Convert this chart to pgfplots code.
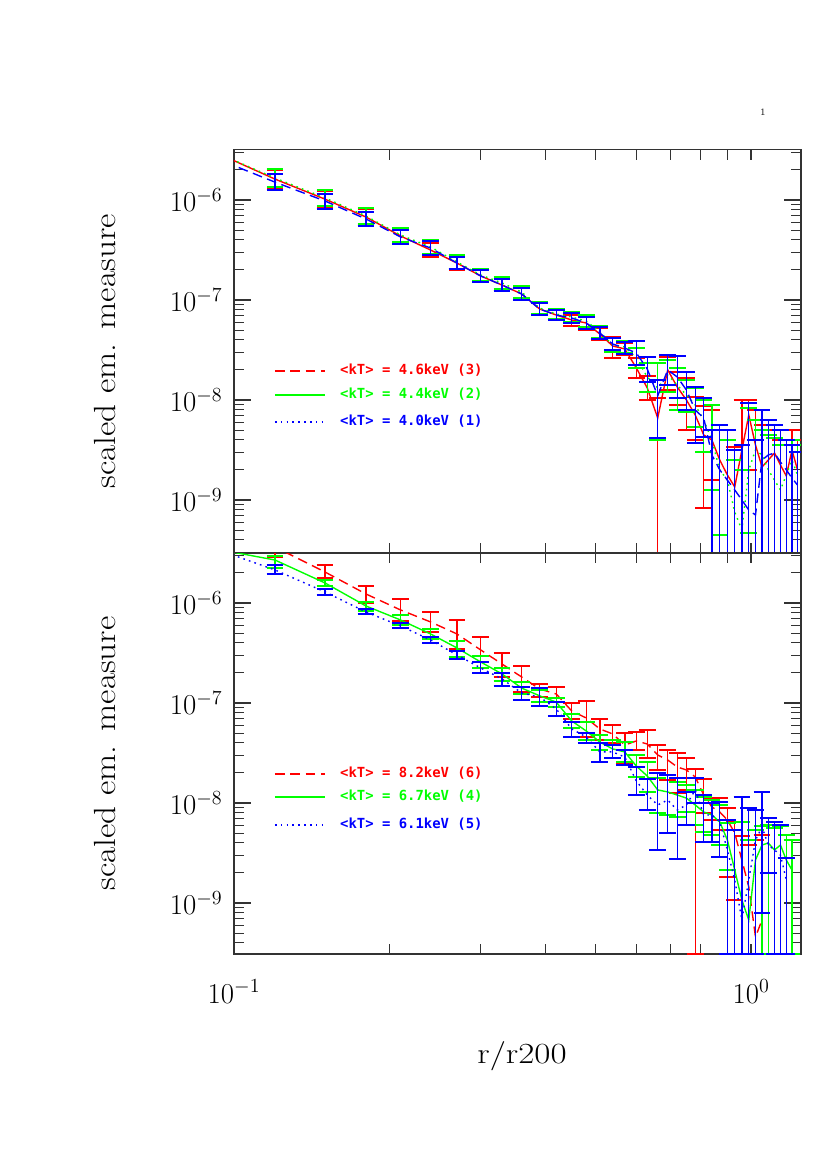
\documentclass[border=0pt]{standalone}
\usepackage{fontspec}
\usepackage{graphicx}
\usepackage{pgfplots}
\usepackage{pgfplotstable}
\pgfplotsset{compat=1.18}
\newfontfamily\legR{DejaVu Sans Mono}[Color=FF0000]
\newfontfamily\legG{DejaVu Sans Mono}[Color=00FF00]
\newfontfamily\legB{DejaVu Sans Mono}[Color=0000FF]
\definecolor{pr}{rgb}{1,0,0}
\definecolor{pg}{rgb}{0,1,0}
\definecolor{pb}{rgb}{0,0,1}

% ---------------- top panel ----------------
\pgfplotstableread{
x y hi lo
0.09 3.16e-6 3.89e-6 2.57e-6
0.12 1.62e-6 2.00e-6 1.32e-6
0.15 1.02e-6 1.23e-6 8.51e-7
0.18 6.76e-7 8.13e-7 5.62e-7
0.21 4.37e-7 5.13e-7 3.72e-7
0.24 3.16e-7 3.72e-7 2.69e-7
0.27 2.34e-7 2.75e-7 2.00e-7
0.30 1.74e-7 2.00e-7 1.51e-7
0.33 1.41e-7 1.62e-7 1.23e-7
0.36 1.15e-7 1.32e-7 1.00e-7
0.39 8.13e-8 9.33e-8 7.08e-8
0.42 7.08e-8 7.94e-8 6.31e-8
0.45 6.31e-8 7.08e-8 5.50e-8
0.48 5.89e-8 6.76e-8 5.01e-8
0.51 4.57e-8 5.25e-8 3.98e-8
0.54 3.47e-8 4.27e-8 2.63e-8
0.57 3.24e-8 3.72e-8 2.82e-8
0.60 2.09e-8 2.63e-8 1.66e-8
0.63 1.32e-8 1.74e-8 1.00e-8
0.66 6.61e-9 1.05e-8 2.95e-10
0.69 2.00e-8 2.69e-8 1.26e-8
0.72 1.35e-8 1.91e-8 8.91e-9
0.75 1.00e-8 1.66e-8 5.01e-9
0.78 7.08e-9 1.07e-8 3.98e-9
0.81 4.47e-9 8.71e-9 8.32e-10
0.84 3.98e-9 7.94e-9 1.58e-9
0.87 2.51e-9 5.62e-9 2.95e-10
0.90 1.78e-9 3.98e-9 2.95e-10
0.93 1.35e-9 3.39e-9 2.95e-10
0.96 3.16e-9 1.00e-8 2.95e-10
0.99 7.08e-9 1.00e-8 2.00e-9
1.02 3.55e-9 7.94e-9 2.95e-10
1.05 2.14e-9 5.62e-9 2.95e-10
1.08 2.51e-9 5.01e-9 2.95e-10
1.11 2.95e-9 5.01e-9 2.95e-10
1.14 2.24e-9 3.98e-9 2.95e-10
1.17 1.74e-9 3.55e-9 2.95e-10
1.20 3.16e-9 5.01e-9 2.95e-10
1.23 2.00e-9 3.98e-9 2.95e-10
}\tr

\pgfplotstableread{
x y hi lo
0.09 3.16e-6 3.89e-6 2.57e-6
0.12 1.66e-6 2.04e-6 1.35e-6
0.15 1.05e-6 1.26e-6 8.71e-7
0.18 6.92e-7 8.32e-7 5.75e-7
0.21 4.47e-7 5.25e-7 3.80e-7
0.24 3.39e-7 3.98e-7 2.88e-7
0.27 2.40e-7 2.82e-7 2.04e-7
0.30 1.78e-7 2.04e-7 1.55e-7
0.33 1.48e-7 1.70e-7 1.29e-7
0.36 1.20e-7 1.38e-7 1.05e-7
0.39 8.32e-8 9.55e-8 7.24e-8
0.42 7.24e-8 8.13e-8 6.46e-8
0.45 6.76e-8 7.59e-8 6.03e-8
0.48 6.17e-8 7.08e-8 5.37e-8
0.51 4.79e-8 5.50e-8 4.17e-8
0.54 3.55e-8 4.17e-8 3.02e-8
0.57 3.39e-8 3.89e-8 2.95e-8
0.60 2.63e-8 3.31e-8 2.09e-8
0.63 1.70e-8 2.34e-8 1.20e-8
0.66 1.32e-8 2.34e-8 3.98e-9
0.69 1.78e-8 2.51e-8 1.20e-8
0.72 1.41e-8 2.09e-8 7.94e-9
0.75 1.12e-8 1.58e-8 7.59e-9
0.78 8.91e-9 1.32e-8 5.37e-9
0.81 6.31e-9 1.00e-8 3.02e-9
0.84 3.98e-9 8.91e-9 1.26e-9
0.87 2.00e-9 5.01e-9 4.47e-10
0.90 1.58e-9 3.98e-9 2.95e-10
0.93 7.59e-10 2.51e-9 2.95e-10
0.96 5.01e-10 2.00e-9 2.95e-10
0.99 2.00e-9 8.32e-9 4.68e-10
1.02 3.16e-9 6.31e-9 2.95e-10
1.05 2.82e-9 5.01e-9 2.95e-10
1.08 2.00e-9 4.47e-9 2.95e-10
1.11 1.58e-9 4.17e-9 2.95e-10
1.14 1.26e-9 3.55e-9 2.95e-10
1.17 1.78e-9 3.98e-9 2.95e-10
1.20 2.51e-9 3.98e-9 2.95e-10
1.23 1.78e-9 3.55e-9 2.95e-10
}\tg

\pgfplotstableread{
x y hi lo
0.09 2.75e-6 3.39e-6 2.24e-6
0.12 1.51e-6 1.82e-6 1.26e-6
0.15 9.77e-7 1.15e-6 8.13e-7
0.18 6.46e-7 7.59e-7 5.50e-7
0.21 4.27e-7 5.01e-7 3.63e-7
0.24 3.31e-7 3.89e-7 2.82e-7
0.27 2.34e-7 2.69e-7 2.04e-7
0.30 1.74e-7 2.00e-7 1.51e-7
0.33 1.41e-7 1.62e-7 1.23e-7
0.36 1.15e-7 1.32e-7 1.00e-7
0.39 8.13e-8 9.33e-8 7.08e-8
0.42 7.08e-8 7.94e-8 6.31e-8
0.45 6.61e-8 7.41e-8 5.89e-8
0.48 5.89e-8 6.76e-8 5.13e-8
0.51 4.68e-8 5.37e-8 4.07e-8
0.54 3.63e-8 4.17e-8 3.16e-8
0.57 3.31e-8 3.80e-8 2.88e-8
0.60 2.95e-8 3.89e-8 2.24e-8
0.63 2.04e-8 2.69e-8 1.51e-8
0.66 1.10e-8 1.58e-8 4.17e-9
0.69 2.00e-8 2.82e-8 1.41e-8
0.72 1.70e-8 2.75e-8 1.05e-8
0.75 1.26e-8 1.91e-8 7.94e-9
0.78 7.94e-9 1.35e-8 3.72e-9
0.81 6.61e-9 1.05e-8 4.27e-9
0.84 2.82e-9 5.01e-9 2.95e-10
0.87 2.00e-9 5.62e-9 2.95e-10
0.90 1.58e-9 5.01e-9 2.95e-10
0.93 1.26e-9 3.16e-9 2.95e-10
0.96 1.00e-9 3.55e-9 2.95e-10
0.99 7.94e-10 9.33e-9 2.95e-10
1.02 7.08e-10 3.98e-9 2.95e-10
1.05 2.51e-9 7.94e-9 2.95e-10
1.08 2.82e-9 6.31e-9 2.95e-10
1.11 2.95e-9 5.62e-9 2.95e-10
1.14 2.40e-9 5.01e-9 2.95e-10
1.17 2.00e-9 3.98e-9 2.95e-10
1.20 1.66e-9 3.55e-9 2.95e-10
1.23 1.41e-9 3.02e-9 2.95e-10
}\tb

% ---------------- bottom panel ----------------
\pgfplotstableread{
x y hi lo
0.09 4.79e-6 5.50e-6 4.17e-6
0.12 3.63e-6 4.79e-6 2.88e-6
0.15 2.04e-6 2.40e-6 1.78e-6
0.18 1.23e-6 1.48e-6 1.00e-6
0.21 8.51e-7 1.10e-6 6.61e-7
0.24 6.46e-7 8.13e-7 5.13e-7
0.27 4.90e-7 6.76e-7 3.47e-7
0.30 3.39e-7 4.57e-7 2.57e-7
0.33 2.45e-7 3.16e-7 1.82e-7
0.36 1.82e-7 2.34e-7 1.29e-7
0.39 1.38e-7 1.55e-7 1.15e-7
0.42 1.23e-7 1.45e-7 1.02e-7
0.45 8.32e-8 1.00e-7 6.92e-8
0.48 7.08e-8 1.05e-7 4.57e-8
0.51 5.50e-8 6.92e-8 4.27e-8
0.54 4.90e-8 6.03e-8 3.98e-8
0.57 3.80e-8 5.01e-8 2.51e-8
0.60 4.17e-8 5.13e-8 3.39e-8
0.63 3.89e-8 5.37e-8 2.82e-8
0.66 3.02e-8 3.80e-8 2.14e-8
0.69 2.69e-8 3.39e-8 1.70e-8
0.72 2.29e-8 3.16e-8 1.26e-8
0.75 2.14e-8 2.82e-8 1.35e-8
0.78 1.82e-8 2.19e-8 3.09e-10
0.81 1.20e-8 1.74e-8 7.94e-9
0.84 9.12e-9 1.12e-8 6.76e-9
0.87 8.13e-9 1.12e-8 5.37e-9
0.90 6.76e-9 8.91e-9 1.82e-9
0.93 5.01e-9 6.46e-9 1.07e-9
0.96 2.69e-9 4.68e-9 3.09e-10
0.99 1.45e-9 3.80e-9 3.09e-10
1.02 4.57e-10 4.27e-9 3.09e-10
1.05 6.76e-10 4.79e-9 3.09e-10
}\br

\pgfplotstableread{
x y hi lo
0.09 3.55e-6 4.17e-6 3.02e-6
0.12 2.69e-6 2.95e-6 2.24e-6
0.15 1.585e-6 1.70e-6 1.48e-6
0.18 9.33e-7 1.02e-6 8.32e-7
0.21 6.76e-7 7.59e-7 6.03e-7
0.24 4.90e-7 5.50e-7 4.37e-7
0.27 3.55e-7 4.17e-7 2.88e-7
0.30 2.57e-7 2.95e-7 2.24e-7
0.33 1.95e-7 2.24e-7 1.66e-7
0.36 1.41e-7 1.62e-7 1.23e-7
0.39 1.18e-7 1.35e-7 1.02e-7
0.42 1.02e-7 1.12e-7 9.12e-8
0.45 6.61e-8 7.76e-8 5.62e-8
0.48 5.25e-8 6.46e-8 4.27e-8
0.51 4.07e-8 4.79e-8 3.39e-8
0.54 3.47e-8 4.27e-8 2.82e-8
0.57 3.24e-8 4.07e-8 2.57e-8
0.60 2.34e-8 3.02e-8 1.82e-8
0.63 1.86e-8 2.57e-8 1.29e-8
0.66 1.35e-8 1.78e-8 7.94e-9
0.69 1.29e-8 1.91e-8 7.59e-9
0.72 1.20e-8 1.62e-8 7.24e-9
0.75 1.12e-8 1.51e-8 8.13e-9
0.78 9.55e-9 1.35e-8 6.03e-9
0.81 8.13e-9 1.15e-8 5.13e-9
0.84 7.59e-9 1.07e-8 4.79e-9
0.87 6.46e-9 9.55e-9 3.80e-9
0.90 4.27e-9 6.31e-9 2.14e-9
0.93 2.14e-9 5.37e-9 3.09e-10
0.96 1.07e-9 6.46e-9 3.09e-10
0.99 6.76e-10 4.27e-9 3.09e-10
1.02 2.69e-9 5.37e-9 3.09e-10
1.05 3.80e-9 5.89e-9 3.09e-10
1.08 3.98e-9 6.03e-9 3.09e-10
1.11 3.39e-9 5.62e-9 3.09e-10
1.14 3.80e-9 5.89e-9 3.09e-10
1.17 2.69e-9 4.79e-9 3.09e-10
1.20 2.14e-9 4.27e-9 3.09e-10
}\bg

\pgfplotstableread{
x y hi lo
0.09 3.63e-6 4.00e-6 3.30e-6
0.12 2.14e-6 2.40e-6 1.95e-6
0.15 1.29e-6 1.38e-6 1.20e-6
0.18 8.13e-7 8.71e-7 7.76e-7
0.21 5.89e-7 6.31e-7 5.62e-7
0.24 4.27e-7 4.57e-7 3.98e-7
0.27 3.02e-7 3.31e-7 2.75e-7
0.30 2.24e-7 2.57e-7 2.00e-7
0.33 1.74e-7 2.00e-7 1.48e-7
0.36 1.26e-7 1.45e-7 1.07e-7
0.39 1.15e-7 1.41e-7 9.33e-8
0.42 8.71e-8 1.02e-7 7.41e-8
0.45 5.50e-8 6.46e-8 4.57e-8
0.48 4.57e-8 5.01e-8 3.98e-8
0.51 3.24e-8 3.98e-8 2.57e-8
0.54 3.24e-8 3.80e-8 2.82e-8
0.57 2.88e-8 3.39e-8 2.40e-8
0.60 1.66e-8 2.29e-8 1.20e-8
0.63 1.20e-8 1.74e-8 8.51e-9
0.66 9.55e-9 2.00e-8 3.39e-9
0.69 1.07e-8 1.91e-8 5.01e-9
0.72 8.51e-9 1.78e-8 2.75e-9
0.75 9.55e-9 1.29e-8 6.03e-9
0.78 1.35e-8 1.78e-8 1.00e-8
0.81 7.59e-9 1.20e-8 4.07e-9
0.84 7.59e-9 1.00e-8 4.07e-9
0.87 6.46e-9 1.02e-8 2.88e-9
0.90 3.39e-9 6.76e-9 3.09e-10
0.93 1.70e-9 5.37e-9 3.09e-10
0.96 6.76e-10 1.15e-8 3.09e-10
0.99 1.70e-9 8.91e-9 3.09e-10
1.02 4.27e-9 8.51e-9 3.09e-10
1.05 5.75e-9 1.29e-8 7.94e-10
1.08 3.80e-9 7.08e-9 2.00e-9
1.11 3.39e-9 6.46e-9 3.09e-10
1.14 3.02e-9 6.03e-9 3.09e-10
1.17 1.70e-9 2.82e-9 3.09e-10
}\bb

\tikzset{leg/.style={anchor=west, inner sep=0pt, text height=7.4pt, text depth=2pt,
    font=\bfseries\fontsize{10}{12}\selectfont}}

\pgfplotsset{
  every axis/.append style={
    xmode=log, ymode=log, scale only axis, width=407.64pt,
    xmin=0.1, xmax=1.249,
    axis line style={black!80, line width=0.9pt},
    tick style={black!80, line width=0.8pt},
    major tick length=12pt, minor tick length=7.5pt,
    xtick={0.1,1},
    minor xtick={0.2,0.3,0.4,0.5,0.6,0.7,0.8,0.9,1},
    major x tick style={draw=none},
    ytick={1e-9,1e-8,1e-7,1e-6},
    minor ytick={3e-10,4e-10,5e-10,6e-10,7e-10,8e-10,9e-10,
      2e-9,3e-9,4e-9,5e-9,6e-9,7e-9,8e-9,9e-9,
      2e-8,3e-8,4e-8,5e-8,6e-8,7e-8,8e-8,9e-8,
      2e-7,3e-7,4e-7,5e-7,6e-7,7e-7,8e-7,9e-7,2e-6,3e-6},
    tick label style={font=\fontsize{20}{24}\selectfont},
    yticklabel style={xshift=-4.8pt},
    ylabel={\scalebox{1.15}[1]{scaled em. measure}},
    ylabel style={at={(axis description cs:-0.2275,0.5)}, anchor=center,
      font=\fontsize{22}{26}\selectfont},
  },
  ebc/.style={mark=none, line width=1pt, color=#1,
    error bars/y dir=both, error bars/y explicit,
    error bars/error bar style={solid, line width=1pt, color=#1},
    error bars/draw error bar/.code 2 args={%
      \draw[#1, solid, line width=1pt] ##1 -- ##2;
      \draw[#1, solid, line width=1pt] ##2 ++(-6pt,0pt) -- ++(12pt,0pt);}},
}

\begin{document}
\begin{tikzpicture}
\useasboundingbox (0,0) rectangle (595.28pt,-841.18pt);
\node[font=\fontsize{7}{8}\selectfont] at (548.55pt,-80.52pt) {1};

\begin{axis}[at={(168.23pt,-397.57pt)}, anchor=south west,
  height=290.09pt, ymin=2.95e-10, ymax=3.20e-6,
  xticklabels={}]
\addplot[draw=none, forget plot] coordinates {(0.5,1e-7)};
\addplot[ebc=pr, forget plot]
  table[x=x, y=y,
  y error plus expr=\thisrow{hi}-\thisrow{y},
  y error minus expr=\thisrow{y}-\thisrow{lo}] {\tr};
\addplot[ebc=pg, dash pattern=on 1.2pt off 3pt, forget plot]
  table[x=x, y=y,
  y error plus expr=\thisrow{hi}-\thisrow{y},
  y error minus expr=\thisrow{y}-\thisrow{lo}] {\tg};
\addplot[ebc=pb, dash pattern=on 7pt off 4pt, forget plot]
  table[x=x, y=y,
  y error plus expr=\thisrow{hi}-\thisrow{y},
  y error minus expr=\thisrow{y}-\thisrow{lo}] {\tb};
% legend samples
\addplot[pr, line width=1pt, dash pattern=on 7pt off 4pt, forget plot]
  coordinates {(0.12,1.95e-8) (0.15,1.95e-8)};
\addplot[pg, line width=1pt, forget plot]
  coordinates {(0.12,1.12e-8) (0.15,1.12e-8)};
\addplot[pb, line width=1pt, dash pattern=on 1.2pt off 3pt, forget plot]
  coordinates {(0.12,6.03e-9) (0.15,6.03e-9)};
\node[leg] at (axis cs:0.1603,1.95e-8) {\legR <kT> = 4.6keV (3)};
\node[leg] at (axis cs:0.1603,1.12e-8) {\legG <kT> = 4.4keV (2)};
\node[leg] at (axis cs:0.1603,6.03e-9) {\legB <kT> = 4.0keV (1)};
\end{axis}

\begin{axis}[at={(168.23pt,-685.87pt)}, anchor=south west,
  height=288.30pt, ymin=3.09e-10, ymax=3.16e-6,
  xticklabel style={yshift=-15pt},
  xlabel={\scalebox{1.2}[1]{r/r200}},
  xlabel style={at={(axis description cs:0.508,-0.2544)}, anchor=center,
    font=\fontsize{21}{25}\selectfont}]
\addplot[draw=none, forget plot] coordinates {(0.5,1e-7)};
\addplot[ebc=pr, dash pattern=on 7pt off 4pt, forget plot]
  table[x=x, y=y,
  y error plus expr=\thisrow{hi}-\thisrow{y},
  y error minus expr=\thisrow{y}-\thisrow{lo}] {\br};
\addplot[ebc=pg, forget plot]
  table[x=x, y=y,
  y error plus expr=\thisrow{hi}-\thisrow{y},
  y error minus expr=\thisrow{y}-\thisrow{lo}] {\bg};
\addplot[ebc=pb, dash pattern=on 1.2pt off 3pt, forget plot]
  table[x=x, y=y,
  y error plus expr=\thisrow{hi}-\thisrow{y},
  y error minus expr=\thisrow{y}-\thisrow{lo}] {\bb};
% legend samples
\addplot[pr, line width=1pt, dash pattern=on 7pt off 4pt, forget plot]
  coordinates {(0.12,1.95e-8) (0.15,1.95e-8)};
\addplot[pg, line width=1pt, forget plot]
  coordinates {(0.12,1.15e-8) (0.15,1.15e-8)};
\addplot[pb, line width=1pt, dash pattern=on 1.2pt off 3pt, forget plot]
  coordinates {(0.12,6.03e-9) (0.15,6.03e-9)};
\node[leg] at (axis cs:0.1603,1.95e-8) {\legR <kT> = 8.2keV (6)};
\node[leg] at (axis cs:0.1603,1.15e-8) {\legG <kT> = 6.7keV (4)};
\node[leg] at (axis cs:0.1603,6.03e-9) {\legB <kT> = 6.1keV (5)};
\end{axis}
\end{tikzpicture}
\end{document}
